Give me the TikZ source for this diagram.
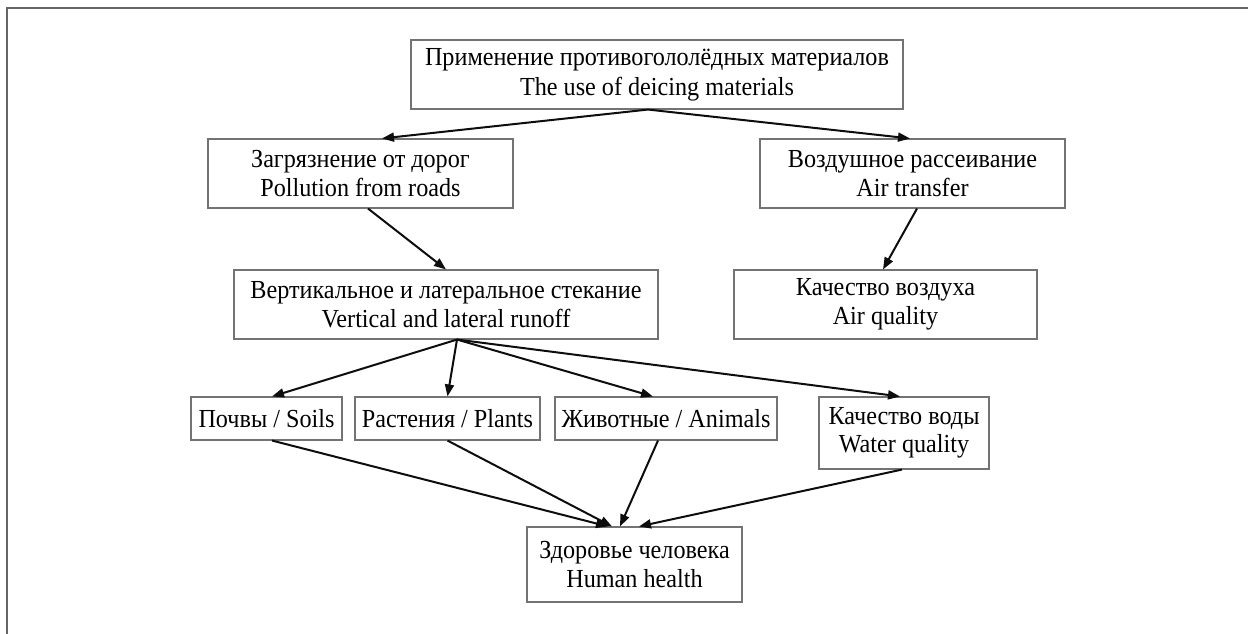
\documentclass[tikz,border=0pt]{standalone}
\usepackage{fontspec}
\setmainfont{Liberation Serif}[FakeStretch=0.93]
\usetikzlibrary{arrows.meta}
\begin{document}
\begin{tikzpicture}[x=1pt,y=-1pt,
  box/.style={draw=black!55,line width=1.1pt,inner sep=0pt,align=center,
    font=\fontsize{26}{28.5}\selectfont,text=black},
  link/.style={line width=2pt,draw=black!95,-{Triangle[length=12pt,width=9pt]}},
  frameline/.style={draw=black!60,line width=1.5pt}]
\useasboundingbox (0,0) rectangle (1248,634);
\draw[frameline] (7,634) -- (7,8) -- (1248,8);
\node[box,minimum width=492pt,minimum height=69pt] (top) at (657,74.5)
  {Применение противогололёдных материалов\\[1.5pt]The use of deicing materials};
\node[box,minimum width=305pt,minimum height=69pt] (poll) at (360.5,173.5)
  {Загрязнение от дорог\\Pollution from roads};
\node[box,minimum width=305pt,minimum height=69pt] (air) at (912.5,173.5)
  {Воздушное рассеивание\\Air transfer};
\node[box,minimum width=424pt,minimum height=69pt] (vert) at (446,304.5)
  {Вертикальное и латеральное стекание\\Vertical and lateral runoff};
\node[box,minimum width=303pt,minimum height=69pt] (airq) at (885.5,304.5)
  {Качество воздуха\\Air quality};
\node[box,minimum width=151pt,minimum height=43pt] (soils) at (266.5,418.5)
  {Почвы / Soils};
\node[box,minimum width=185pt,minimum height=43pt] (plants) at (447.5,418.5)
  {Растения / Plants};
\node[box,minimum width=222pt,minimum height=43pt] (animals) at (666,418.5)
  {Животные / Animals};
\node[box,minimum width=170pt,minimum height=72pt] (water) at (904,433)
  {Качество воды\\Water quality};
\node[box,minimum width=215pt,minimum height=75pt] (health) at (634.5,564.5)
  {Здоровье человека\\Human health};
\draw[link] ([xshift=-9pt]top.south) -- ([xshift=21.5pt]poll.north);
\draw[link] ([xshift=-9pt]top.south) -- ([xshift=-2.5pt]air.north);
\draw[link] ([xshift=7.5pt]poll.south) -- (vert.north);
\draw[link] ([xshift=4.5pt]air.south) -- ([xshift=-2.5pt]airq.north);
\draw[link] ([xshift=11pt]vert.south) -- ([xshift=5.5pt]soils.north);
\draw[link] ([xshift=11pt]vert.south) -- (plants.north);
\draw[link] ([xshift=11pt]vert.south) -- ([xshift=-13pt]animals.north);
\draw[link] ([xshift=11pt]vert.south) -- ([xshift=-4pt]water.north);
\draw[link] ([xshift=5.5pt]soils.south) -- ([xshift=-26.5pt]health.north);
\draw[link] (plants.south) -- ([xshift=-22.5pt]health.north);
\draw[link] ([xshift=-8pt]animals.south) -- ([xshift=-14.5pt]health.north);
\draw[link] ([xshift=-2pt]water.south) -- ([xshift=4.5pt]health.north);
\end{tikzpicture}
\end{document}
